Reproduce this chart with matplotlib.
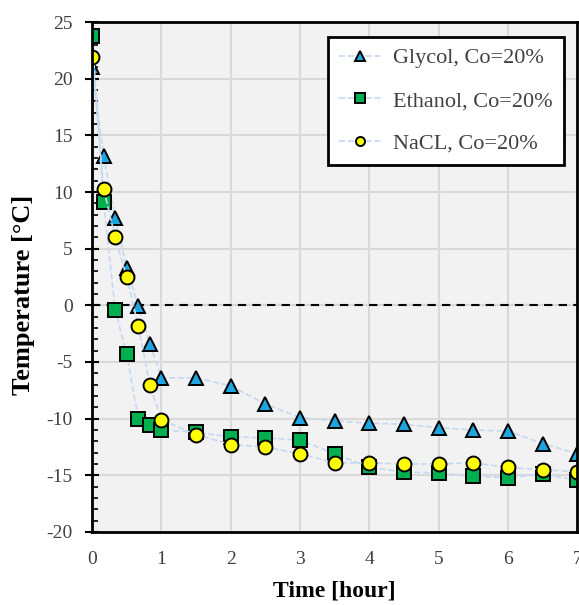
import matplotlib.pyplot as plt
from matplotlib.ticker import MultipleLocator

plt.rcParams['font.family'] = ['Liberation Serif', 'DejaVu Serif']
plt.rcParams['axes.unicode_minus'] = False

# time in hours (10-minute steps for the first hour, then half-hourly)
t = [0, 1/6, 2/6, 3/6, 4/6, 5/6, 1, 1.5, 2, 2.5, 3, 3.5, 4, 4.5, 5, 5.5, 6, 6.5, 7]

glycol = [21.0, 13.2, 7.7, 3.3, -0.1, -3.4, -6.4, -6.4, -7.1, -8.7, -9.9, -10.2,
          -10.4, -10.5, -10.8, -11.0, -11.1, -12.2, -13.1]
ethanol = [23.8, 9.1, -0.4, -4.3, -10.0, -10.6, -11.0, -11.2, -11.6, -11.7, -11.9,
           -13.1, -14.3, -14.7, -14.8, -15.1, -15.2, -14.9, -15.4]
nacl = [21.9, 10.3, 6.0, 2.5, -1.8, -7.0, -10.1, -11.4, -12.3, -12.5, -13.1, -13.9,
        -13.9, -14.0, -14.0, -13.9, -14.3, -14.5, -14.7]

labels = ['Glycol, Co=20%', 'Ethanol, Co=20%', 'NaCL, Co=20%']

fig = plt.figure(figsize=(5.79, 6.05), dpi=100)
ax = fig.add_axes([0.159, 0.1207, 0.838, 0.8429])
ax.set_facecolor('#f2f2f2')

line_kw = dict(color='#c6d9f1', linestyle='--', linewidth=1.2, markeredgecolor='black',
               markeredgewidth=1.4, markersize=10)
ax.plot(t, glycol, marker='^', markerfacecolor='#1ea5e0', label=labels[0], **line_kw)
ax.plot(t, ethanol, marker='s', markerfacecolor='#00b050', label=labels[1], **line_kw)
ax.plot(t, nacl, marker='o', markerfacecolor='#ffff00', label=labels[2], **line_kw)

ax.axhline(0, color='black', linestyle='--', linewidth=1.5, dashes=(4, 3), zorder=1.5)

ax.set_xlim(0, 7)
ax.set_ylim(-20, 25)
ax.xaxis.set_major_locator(MultipleLocator(1))
ax.yaxis.set_major_locator(MultipleLocator(5))
ax.yaxis.set_minor_locator(MultipleLocator(1))
ax.grid(True, which='major', color='#d9d9d9', linewidth=1.5)
ax.set_axisbelow(True)

for s in ax.spines.values():
    s.set_linewidth(2)
ax.tick_params(axis='x', length=0, pad=14, labelsize=14, labelcolor='#404040')
ax.tick_params(axis='y', which='major', direction='inout', length=10, width=1.5,
               pad=9, labelsize=14, labelcolor='#404040')
ax.tick_params(axis='y', which='minor', direction='in', length=4, width=1.2)

ax.set_xlabel('Time [hour]', fontsize=17, fontweight='bold', labelpad=9)
ax.set_ylabel('Temperature [°C]', fontsize=19, fontweight='bold')
ax.yaxis.set_label_coords(-0.117, 0.465)

leg = ax.legend(loc='upper right', bbox_to_anchor=(0.973, 0.971), borderaxespad=0,
                fontsize=16, frameon=True, fancybox=False, borderpad=0.5,
                labelspacing=1.0, handlelength=1.9, handletextpad=0.55, framealpha=1,
                markerscale=0.65)
leg.get_frame().set_edgecolor('black')
leg.get_frame().set_linewidth(2)
for txt in leg.get_texts():
    txt.set_color('#404040')

fig.savefig('out.png', dpi=100)
